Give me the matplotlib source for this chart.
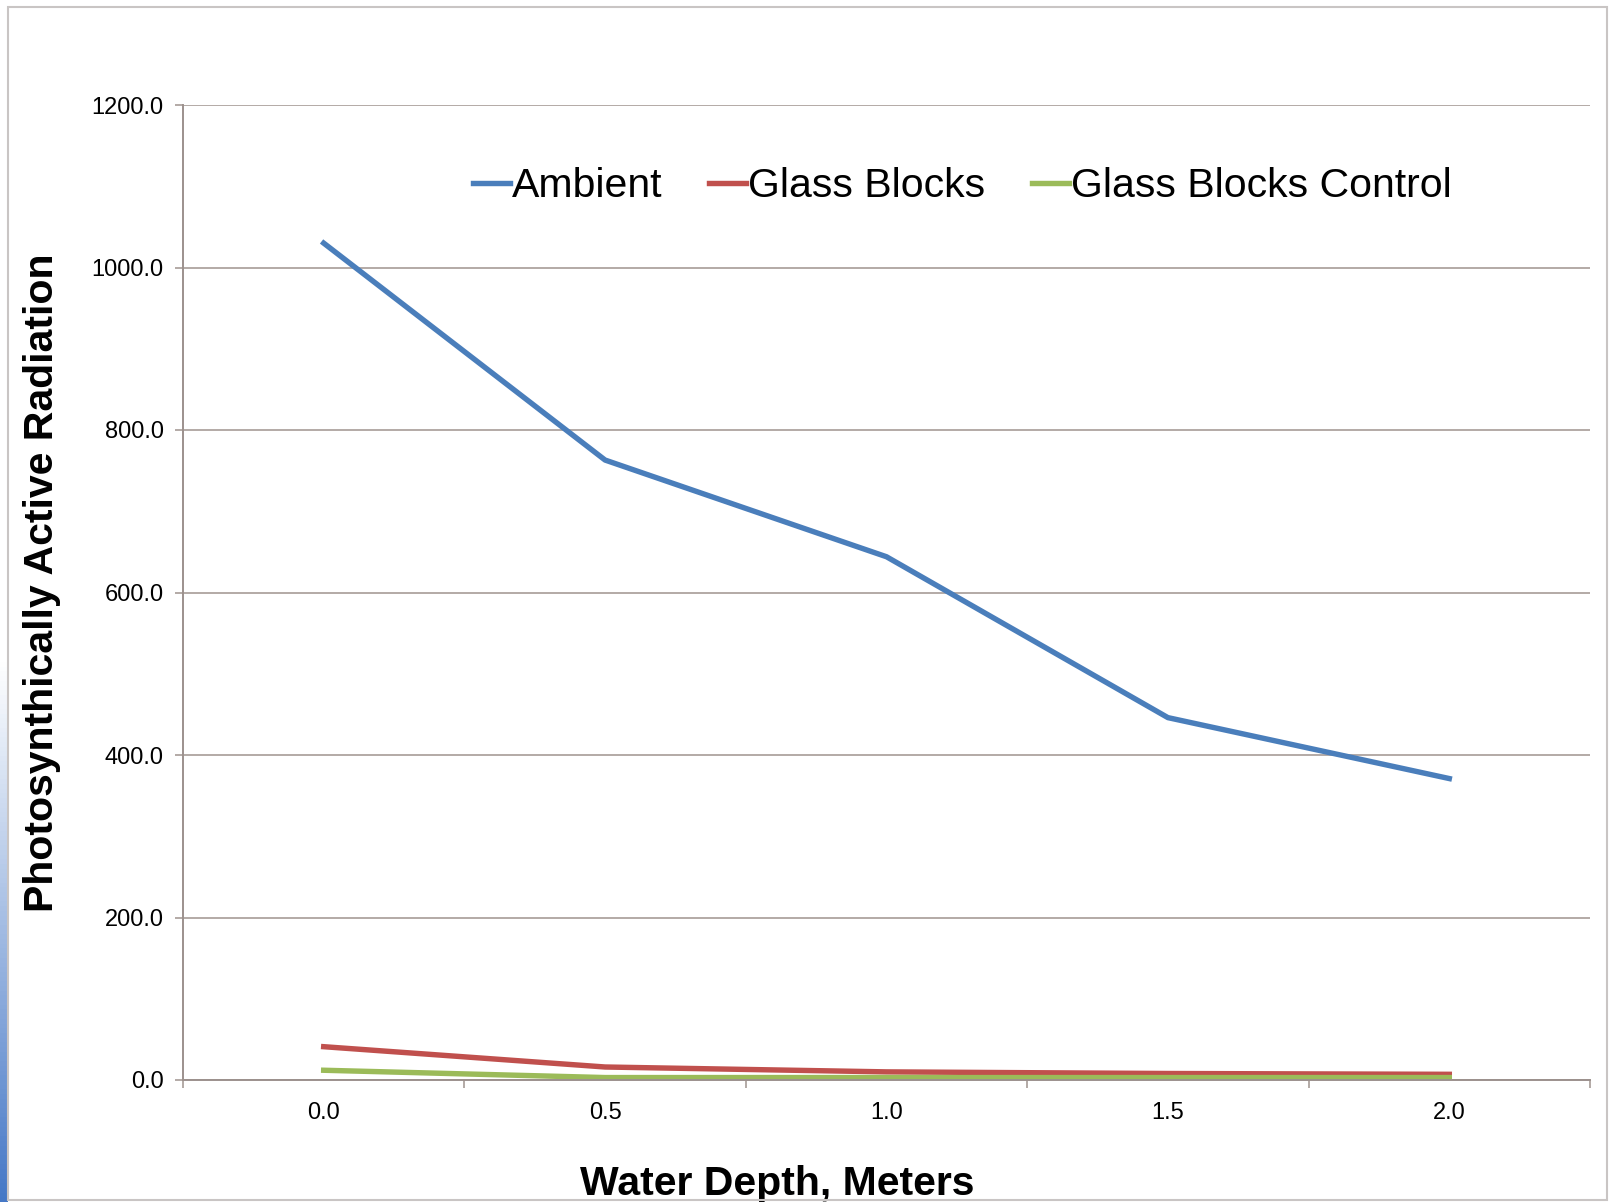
import numpy as np
import matplotlib
matplotlib.use('Agg')
import matplotlib.pyplot as plt
from matplotlib.patches import Rectangle

plt.rcParams['font.family'] = ['Liberation Sans', 'DejaVu Sans']

# data
depth = [0.0, 0.5, 1.0, 1.5, 2.0]
depth_labels = ['0.0', '0.5', '1.0', '1.5', '2.0']
ambient = [1030, 763, 644, 446, 371]
glass_blocks = [41, 16, 10, 8, 7]
glass_control = [12, 3, 3, 3, 3]
y_ticks = [0, 200, 400, 600, 800, 1000, 1200]

fig = plt.figure(figsize=(16.12, 12.02), dpi=100)
ax = fig.add_axes([183 / 1612, 1 - 1080 / 1202, 1407 / 1612, 975 / 1202])

ax.plot(depth, ambient, color='#4A7EBB', linewidth=3.9, solid_joinstyle='round', label='Ambient')
ax.plot(depth, glass_blocks, color='#C0504D', linewidth=3.9, solid_joinstyle='round', label='Glass Blocks')
ax.plot(depth, glass_control, color='#9BBB59', linewidth=3.9, solid_joinstyle='round', label='Glass Blocks Control')

ax.set_xlim(-0.25, 2.25)
ax.set_ylim(0, 1200)
ax.set_yticks(y_ticks)
ax.set_yticklabels([f'{v:.1f}' for v in y_ticks])
ax.set_xticks(depth)
ax.set_xticklabels(depth_labels)
ax.set_xticks([-0.25, 0.25, 0.75, 1.25, 1.75, 2.25], minor=True)

grid_col = '#B3AAA6'
ax.grid(axis='y', color=grid_col, linewidth=1.4)
ax.set_axisbelow(True)
for side in ['top', 'right']:
    ax.spines[side].set_visible(False)
for side in ['left', 'bottom']:
    ax.spines[side].set_color('#9C918D')
    ax.spines[side].set_linewidth(1.4)

ax.tick_params(axis='y', length=6, width=1.4, color=grid_col, labelsize=17, pad=8)
ax.tick_params(axis='x', which='major', length=0, labelsize=17, pad=16)
ax.tick_params(axis='x', which='minor', length=6, width=1.4, color=grid_col)

ax.set_ylabel('Photosynthically Active Radiation', fontsize=29.5, fontweight='bold')
ax.yaxis.set_label_coords(-0.087, 0.51)
ax.set_xlabel('Water Depth, Meters', fontsize=29.5, fontweight='bold')
ax.xaxis.set_label_coords(0.422, -0.087)

ax.legend(loc='center', bbox_to_anchor=(0.554, 0.917), ncol=3, frameon=False,
          fontsize=29.5, handlelength=0.9, handletextpad=0.05, columnspacing=1.15)

# outer frame of the slide
fig.patches.append(Rectangle((8 / 1612, 0.002), 1599 / 1612, 1 - 7 / 1202 - 0.002,
                             transform=fig.transFigure, fill=False,
                             edgecolor='#C9C5C4', linewidth=1.5))

# blue strip on the left edge, fading upward
strip = fig.add_axes([0, 0, 8 / 1612, 1])
grad = np.linspace(0, 1, 256).reshape(-1, 1)
alpha = np.clip((grad - 0.55) / 0.45, 0, 1)
rgba = np.zeros((256, 1, 4))
rgba[..., 0] = 0.27
rgba[..., 1] = 0.47
rgba[..., 2] = 0.78
rgba[..., 3] = alpha
strip.imshow(rgba, aspect='auto', extent=[0, 1, 0, 1])
strip.axis('off')

fig.savefig('out.png', dpi=100)
